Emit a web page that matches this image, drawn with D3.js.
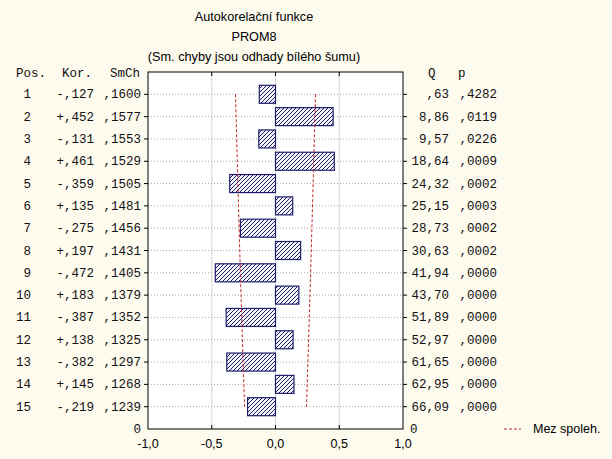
<!DOCTYPE html>
<html>
<head>
<meta charset="utf-8">
<script src="https://cdn.jsdelivr.net/npm/d3@7"></script>
<style>
  html, body { margin: 0; padding: 0; background: #fdfaee; }
  #chart { width: 612px; height: 459px; }
</style>
</head>
<body>
<div id="chart"></div>
<script>
const lags = [1, 2, 3, 4, 5, 6, 7, 8, 9, 10, 11, 12, 13, 14, 15];
const kor = [-0.127, 0.452, -0.131, 0.461, -0.359, 0.135, -0.275, 0.197, -0.472, 0.183, -0.387, 0.138, -0.382, 0.145, -0.219];
const smch = [0.1600, 0.1577, 0.1553, 0.1529, 0.1505, 0.1481, 0.1456, 0.1431, 0.1405, 0.1379, 0.1352, 0.1325, 0.1297, 0.1268, 0.1239];
const qStat = [0.63, 8.86, 9.57, 18.64, 24.32, 25.15, 28.73, 30.63, 41.94, 43.70, 51.89, 52.97, 61.65, 62.95, 66.09];
const pVal = [0.4282, 0.0119, 0.0226, 0.0009, 0.0002, 0.0003, 0.0002, 0.0002, 0.0000, 0.0000, 0.0000, 0.0000, 0.0000, 0.0000, 0.0000];
const xTicks = [-1, -0.5, 0, 0.5, 1];
const titleLines = ['Autokorelační funkce', 'PROM8', '(Sm. chyby jsou odhady bílého šumu)'];

const width = 612, height = 459;
const plot = { left: 148, right: 403, top: 72, bottom: 429 };

const svg = d3.select('#chart').append('svg')
  .attr('width', width)
  .attr('height', height);

svg.append('rect').attr('width', width).attr('height', height).attr('fill', '#fdfaee');

// hatch pattern for bars
const defs = svg.append('defs');
const pat = defs.append('pattern')
  .attr('id', 'hatch')
  .attr('patternUnits', 'userSpaceOnUse')
  .attr('width', 4).attr('height', 4);
pat.append('rect').attr('width', 4).attr('height', 4).attr('fill', '#f4f4fb');
pat.append('path')
  .attr('d', 'M-1,1 l2,-2 M0,4 l4,-4 M3,5 l2,-2')
  .attr('stroke', '#1e1e6a')
  .attr('stroke-width', 1);

const x = d3.scaleLinear().domain([-1, 1]).range([plot.left, plot.right]);
const y = d3.scaleLinear().domain([0, 16]).range([plot.top, plot.bottom]);

const fmtNum = (v, d) => {
  const s = Math.abs(v).toFixed(d).replace('.', ',');
  return s.startsWith('0,') ? s.slice(1) : s;
};
const fmtKor = v => (v < 0 ? '-' : '+') + fmtNum(v, 3);

// plot background
svg.append('rect')
  .attr('x', plot.left).attr('y', plot.top)
  .attr('width', plot.right - plot.left).attr('height', plot.bottom - plot.top)
  .attr('fill', '#fff');

// vertical grid
svg.append('g').selectAll('line')
  .data(xTicks.slice(1, -1))
  .join('line')
  .attr('x1', d => x(d)).attr('x2', d => x(d))
  .attr('y1', plot.top).attr('y2', plot.bottom)
  .attr('stroke', '#d4d4d4');

// horizontal dotted grid
svg.append('g').selectAll('line')
  .data(lags)
  .join('line')
  .attr('x1', plot.left).attr('x2', plot.right)
  .attr('y1', d => y(d)).attr('y2', d => y(d))
  .attr('stroke', '#a8a8a8')
  .attr('stroke-dasharray', '1,2');

// bars
svg.append('g').selectAll('rect')
  .data(lags)
  .join('rect')
  .attr('x', (d, i) => x(Math.min(0, kor[i])))
  .attr('y', d => y(d) - 9)
  .attr('width', (d, i) => Math.abs(x(kor[i]) - x(0)))
  .attr('height', 18)
  .attr('fill', 'url(#hatch)')
  .attr('stroke', '#1e1e6a')
  .attr('stroke-width', 1.2);

// confidence limits (+-1.96 * SmCh)
const lineGen = d3.line().x(d => x(d[0])).y(d => y(d[1]));
[-1.96, 1.96].forEach(k => {
  svg.append('path')
    .attr('d', lineGen(lags.map((d, i) => [k * smch[i], d])))
    .attr('fill', 'none')
    .attr('stroke', '#c0262a')
    .attr('stroke-width', 1)
    .attr('stroke-dasharray', '3,2');
});

// frame
svg.append('rect')
  .attr('x', plot.left).attr('y', plot.top)
  .attr('width', plot.right - plot.left).attr('height', plot.bottom - plot.top)
  .attr('fill', 'none')
  .attr('stroke', '#000')
  .attr('stroke-width', 1);

// row ticks on left and right axes
const ticks = svg.append('g').attr('stroke', '#000');
lags.forEach(d => {
  ticks.append('line').attr('x1', plot.left - 4).attr('x2', plot.left).attr('y1', y(d)).attr('y2', y(d));
  ticks.append('line').attr('x1', plot.right).attr('x2', plot.right + 4).attr('y1', y(d)).attr('y2', y(d));
});
xTicks.slice(1, -1).forEach(d => {
  ticks.append('line').attr('x1', x(d)).attr('x2', x(d)).attr('y1', plot.top).attr('y2', plot.top + 4);
  ticks.append('line').attr('x1', x(d)).attr('x2', x(d)).attr('y1', plot.bottom - 4).attr('y2', plot.bottom);
});

// x tick labels
svg.append('g').selectAll('text')
  .data(xTicks)
  .join('text')
  .attr('x', d => x(d))
  .attr('y', plot.bottom + 19)
  .attr('text-anchor', 'middle')
  .style('font-family', 'Liberation Sans, Arial, sans-serif')
  .style('font-size', '12.5px')
  .style('fill', '#000')
  .text(d => d.toFixed(1).replace('.', ','));

// title
svg.append('g').selectAll('text')
  .data(titleLines)
  .join('text')
  .attr('x', 254)
  .attr('y', (d, i) => 21 + i * 20)
  .attr('text-anchor', 'middle')
  .style('font-family', 'Liberation Sans, Arial, sans-serif')
  .style('font-size', '12.7px')
  .style('fill', '#000')
  .text(d => d);

// tables
const mono = g => g.style('font-family', 'Liberation Mono, Courier New, monospace')
  .style('font-size', '12.5px').style('fill', '#111');

const header = svg.append('g').call(mono);
[['Pos.', 16], ['Kor.', 62], ['SmCh', 110], ['Q', 428], ['p', 458]]
  .forEach(h => {
    header.append('text').attr('x', h[1]).attr('y', 77).text(h[0]);
  });

const rows = svg.append('g').call(mono);
lags.forEach((d, i) => {
  const yy = y(d) + 4;
  rows.append('text').attr('x', 31).attr('y', yy).attr('text-anchor', 'end').text(d);
  rows.append('text').attr('x', 94).attr('y', yy).attr('text-anchor', 'end').text(fmtKor(kor[i]));
  rows.append('text').attr('x', 141).attr('y', yy).attr('text-anchor', 'end').text(fmtNum(smch[i], 4));
  rows.append('text').attr('x', 449).attr('y', yy).attr('text-anchor', 'end').text(fmtNum(qStat[i], 2));
  rows.append('text').attr('x', 497).attr('y', yy).attr('text-anchor', 'end').text(fmtNum(pVal[i], 4));
});
rows.append('text').attr('x', 141).attr('y', y(16) + 4).attr('text-anchor', 'end').text('0');
rows.append('text').attr('x', 410).attr('y', y(16) + 4).attr('text-anchor', 'start').text('0');

// legend
svg.append('line')
  .attr('x1', 504).attr('x2', 521)
  .attr('y1', plot.bottom).attr('y2', plot.bottom)
  .attr('stroke', '#c0262a')
  .attr('stroke-dasharray', '3,2');
svg.append('text')
  .attr('x', 533).attr('y', plot.bottom + 4)
  .style('font-family', 'Liberation Sans, Arial, sans-serif')
  .style('font-size', '12.5px')
  .style('fill', '#000')
  .text('Mez spoleh.');
</script>
</body>
</html>
